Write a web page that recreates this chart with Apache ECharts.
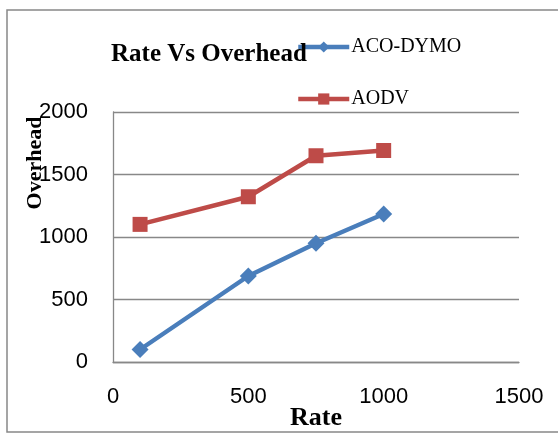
<!DOCTYPE html>
<html><head><meta charset="utf-8">
<script src="https://cdn.jsdelivr.net/npm/echarts@6/dist/echarts.min.js"></script>
<style>html,body{margin:0;padding:0;background:#fff}#c{width:558px;height:434px}</style>
</head><body><div id="c"></div>
<script>
var rates = [100, 500, 750, 1000];
var acoDymo = [100, 688, 950, 1184];
var aodv = [1101, 1322, 1650, 1692];
var xTicks = [0, 500, 1000, 1500];
var yTicks = [0, 500, 1000, 1500, 2000];

function pairs(xs, ys){ return xs.map(function(x,i){return [x, ys[i]];}); }
var legendText = {fontFamily: 'Liberation Serif', fontSize: 20, color: '#000', padding: [0,0,0,-3]};

var chart = echarts.init(document.getElementById('c'));
chart.setOption({
  animation: false,
  backgroundColor: '#fff',
  title: {
    text: 'Rate Vs Overhead', left: 106, top: 37,
    textStyle: {fontFamily: 'Liberation Serif', fontWeight: 'bold', fontSize: 25, color: '#000'}
  },
  legend: [{
    left: 296, top: 37, padding: 0, itemWidth: 51, itemHeight: 14,
    lineStyle: {width: 4.5},
    textStyle: legendText, data: ['ACO-DYMO']
  }, {
    left: 296, top: 89, padding: 0, itemWidth: 51, itemHeight: 14,
    lineStyle: {width: 4.5},
    textStyle: legendText, data: ['AODV']
  }],
  graphic: [{
    type: 'rect', shape: {x: 7, y: 10, width: 560, height: 422},
    style: {fill: 'none', stroke: '#888', lineWidth: 1.5}, z: -1
  }],
  grid: {left: 113, top: 112, right: 39, bottom: 72, containLabel: false, outerBoundsMode: 'none'},
  xAxis: {
    type: 'value', min: xTicks[0], max: xTicks[xTicks.length-1], interval: 500,
    name: 'Rate', nameLocation: 'middle', nameGap: 43, nameMoveOverlap: false,
    nameTextStyle: {fontFamily: 'Liberation Serif', fontWeight: 'bold', fontSize: 26, color: '#000'},
    axisLine: {show: true, lineStyle: {color: '#888', width: 1.3}},
    axisTick: {show: false},
    splitLine: {show: false},
    axisLabel: {fontFamily: 'Liberation Sans', fontSize: 22, color: '#000', margin: 24, formatter: function(v){return String(v);}}
  },
  yAxis: {
    type: 'value', min: yTicks[0], max: yTicks[yTicks.length-1], interval: 500,
    name: 'Overhead', nameLocation: 'middle', nameGap: 67, nameRotate: 90, nameMoveOverlap: false,
    nameTextStyle: {fontFamily: 'Liberation Serif', fontWeight: 'bold', fontSize: 22, color: '#000', padding: [0,0,0,148]},
    axisLine: {show: true, lineStyle: {color: '#888', width: 1.3}},
    axisTick: {show: false},
    splitLine: {show: true, lineStyle: {color: '#888', width: 1.3}},
    axisLabel: {fontFamily: 'Liberation Sans', fontSize: 22, color: '#000', margin: 25, formatter: function(v){return String(v);}}
  },
  series: [{
    name: 'ACO-DYMO', type: 'line', data: pairs(rates, acoDymo),
    symbol: 'diamond', symbolSize: 17,
    lineStyle: {color: '#4a7ebb', width: 4.5},
    itemStyle: {color: '#4a7ebb'}
  }, {
    name: 'AODV', type: 'line', data: pairs(rates, aodv),
    symbol: 'rect', symbolSize: 15,
    lineStyle: {color: '#be4b48', width: 4.5},
    itemStyle: {color: '#be4b48'}
  }]
});
</script></body></html>
